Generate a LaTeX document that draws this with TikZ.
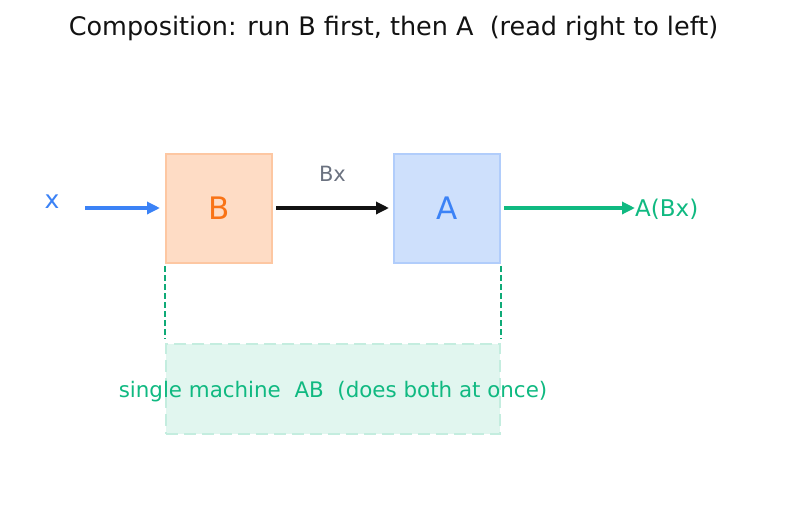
\documentclass[tikz,border=0pt]{standalone}
\usepackage{fontspec}
\setmainfont{DejaVu Sans}
\usepackage{xcolor}
\usepackage{tikz}
\usetikzlibrary{arrows.meta,positioning}

\definecolor{orangefill}{HTML}{FEDCC5}
\definecolor{orangeedge}{HTML}{FDC7A2}
\definecolor{orangetext}{HTML}{F97316}
\definecolor{bluefill}{HTML}{CEE0FC}
\definecolor{blueedge}{HTML}{B1CDFB}
\definecolor{bluetext}{HTML}{3B82F6}
\definecolor{greenfill}{HTML}{E1F6EF}
\definecolor{greenedge}{HTML}{C4EDDF}
\definecolor{greentext}{HTML}{10B981}
\definecolor{labelgray}{HTML}{6B7280}

\tikzset{
  machine/.style={draw, line width=2pt, minimum width=106pt, minimum height=109pt,
    inner sep=0pt, font=\fontsize{31}{33}\selectfont},
  flow/.style={line width=3.2pt, -{Triangle[length=13pt,width=12pt]}},
  link/.style={greentext!92!black, line width=1.4pt, dash pattern=on 6pt off 3pt}
}

\begin{document}
\begin{tikzpicture}[x=1pt,y=-1pt]
        \useasboundingbox (0,0) rectangle (787,512);

        % Title
        \node[text=black!93] (title) at (393.5,28) {\fontsize{25.5}{28}\selectfont Composition: run B first, then A\ \ (read right to left)};

        % Machines
        \node[machine, fill=orangefill, draw=orangeedge, text=orangetext] (B) at (219,208.5) {B};
        \node[machine, fill=bluefill, draw=blueedge, text=bluetext] (A) at (447,208.5) {A};

        % Input and output
        \node[text=bluetext, font=\fontsize{25}{27}\selectfont] (x) at (52,202) {x};
        \coordinate (xin) at (85,208);
        \node[anchor=west, inner sep=0pt, text=greentext, font=\fontsize{23}{25}\selectfont] (out) at (635,209) {A(Bx)};

        % Arrows
        \draw[flow, bluetext] (xin) -- ([xshift=-5pt]B.west |- xin);
        \draw[flow, black!93] ([xshift=3pt]B.east |- xin) -- ([xshift=-4pt]A.west |- xin)
            node[midway, above=22pt, text=labelgray, font=\fontsize{21}{23}\selectfont] (Bx) {Bx};
        \draw[flow, greentext] ([xshift=3pt]A.east |- xin) -- (out.west |- xin);

        % Combined machine
        \node[draw=greenedge, fill=greenfill, line width=2pt, dash pattern=on 12pt off 6pt,
            minimum width=334pt, minimum height=90pt, inner sep=0pt] (AB) at (333,389) {};
        \node[text=greentext, font=\fontsize{21.4}{24}\selectfont] (ABlabel) at ([yshift=-2.5pt]AB.center) {single machine\ \ AB\ \ (does both at once)};

        \draw[link, shorten <=2pt, shorten >=4pt] (B.south west) -- (AB.north west);
        \draw[link, shorten <=2pt, shorten >=4pt] (A.south east) -- (AB.north east);
    \end{tikzpicture}
\end{document}
